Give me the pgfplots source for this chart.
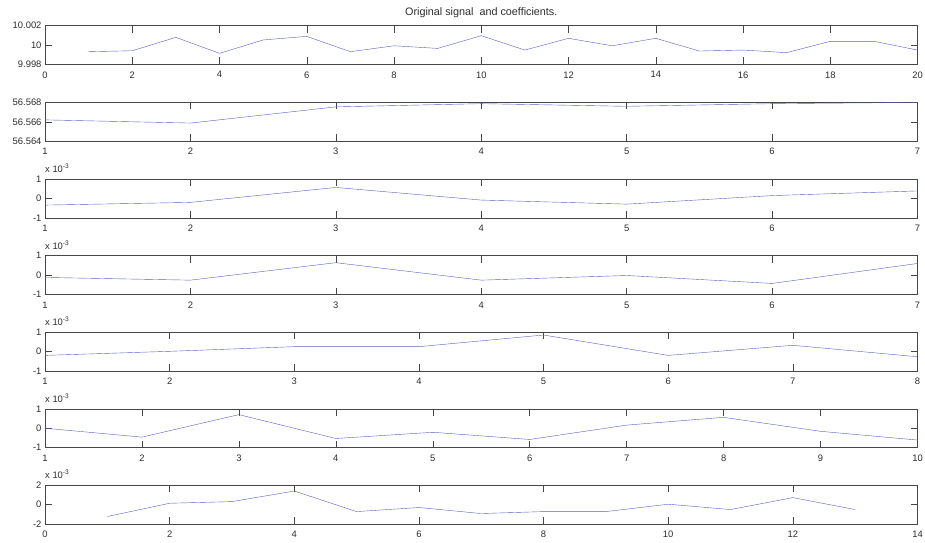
\documentclass[border=0pt]{standalone}
\usepackage{fontspec}
\setmainfont{Liberation Sans}
\usepackage{pgfplots}
\pgfplotsset{compat=1.18}
\definecolor{lineblue}{RGB}{84,96,196}
\definecolor{axisgray}{RGB}{70,70,70}
\definecolor{labelgray}{RGB}{45,45,45}
\newcommand{\tf}{\fontsize{9.4}{11}\selectfont}
\pgfplotsset{
  mstyle/.style={
    scale only axis, width=872.5pt, height=38.8pt, anchor=north west,
    axis line style={draw=axisgray, line width=0.6pt},
    tick style={draw=axisgray, line width=0.5pt},
    major tick length=7pt, tick align=inside,
    ticklabel style={font=\tf, text=labelgray},
    xticklabel style={yshift=-3.5pt},
    /pgf/number format/assume math mode=true,
    scaled y ticks=false, scaled x ticks=false,
    clip=false,
    cycle list={{lineblue, line width=0.65pt, mark=none}},
  },
  milli/.style={
    after end axis/.code={
      \node[anchor=base west, font=\tf, text=labelgray, inner sep=0pt] at (rel axis cs:0,1) [yshift=6.5pt] {x 10\textsuperscript{-3}};
    }
  }
}
\begin{document}
\begin{tikzpicture}
\useasboundingbox (0,0) rectangle (925pt,-542pt);
% 1: original signal
\begin{axis}[mstyle, at={(45pt,-25.6pt)},
  xmin=0, xmax=20, xtick={0,2,...,20},
  ymin=9.998, ymax=10.002, ytick={9.998,10,10.002}, yticklabels={9.998,10,10.002}]
\addplot coordinates {(1,9.99931) (2,9.99941) (3,10.00079) (4,9.99914) (5,10.00052) (6,10.00089) (7,9.99931) (8,9.99992) (9,9.99965) (10,10.00096) (11,9.99948) (12,10.00069) (13,9.99992) (14,10.00069) (15,9.99938) (16,9.99948) (17,9.99921) (18,10.00038) (19,10.00038) (20,9.99948)};
\node[anchor=base, font=\fontsize{10.8}{12}\selectfont, text=labelgray] at (rel axis cs:0.5,1) [yshift=10pt] {Original signal\ \ and coefficients.};
\end{axis}
% 2: approximation
\begin{axis}[mstyle, at={(45pt,-102.4pt)},
  xmin=1, xmax=7, xtick={1,...,7},
  ymin=56.564, ymax=56.568, ytick={56.564,56.566,56.568}, yticklabels={56.564,56.566,56.568}]
\addplot coordinates {(1,56.5662) (2,56.56587) (3,56.56754) (4,56.56787) (5,56.5676) (6,56.56787) (7,56.568)};
\end{axis}
% 3
\begin{axis}[mstyle, milli, at={(45pt,-179.1pt)},
  xmin=1, xmax=7, xtick={1,...,7},
  ymin=-1, ymax=1, ytick={-1,0,1}]
\addplot coordinates {(1,-0.34) (2,-0.20) (3,0.57) (4,-0.08) (5,-0.29) (6,0.15) (7,0.39)};
\end{axis}
% 4
\begin{axis}[mstyle, milli, at={(45pt,-255.7pt)},
  xmin=1, xmax=7, xtick={1,...,7},
  ymin=-1, ymax=1, ytick={-1,0,1}]
\addplot coordinates {(1,-0.12) (2,-0.26) (3,0.64) (4,-0.26) (5,-0.02) (6,-0.43) (7,0.60)};
\end{axis}
% 5
\begin{axis}[mstyle, milli, at={(45pt,-332.3pt)},
  xmin=1, xmax=8, xtick={1,...,8},
  ymin=-1, ymax=1, ytick={-1,0,1}]
\addplot coordinates {(1,-0.19) (2,0.02) (3,0.26) (4,0.26) (5,0.86) (6,-0.19) (7,0.33) (8,-0.26)};
\end{axis}
% 6
\begin{axis}[mstyle, milli, at={(45pt,-408.8pt)},
  xmin=1, xmax=10, xtick={1,...,10},
  ymin=-1, ymax=1, ytick={-1,0,1}]
\addplot coordinates {(1,0.0) (2,-0.46) (3,0.70) (4,-0.53) (5,-0.21) (6,-0.58) (7,0.16) (8,0.56) (9,-0.16) (10,-0.61)};
\end{axis}
% 7
\begin{axis}[mstyle, milli, at={(45pt,-485pt)},
  xmin=0, xmax=14, xtick={0,2,...,14},
  ymin=-2, ymax=2, ytick={-2,0,2}]
\addplot coordinates {(1,-1.25) (2,0.12) (3,0.29) (4,1.38) (5,-0.74) (6,-0.32) (7,-0.94) (8,-0.74) (9,-0.74) (10,0.02) (11,-0.53) (12,0.70) (13,-0.53)};
\end{axis}
\end{tikzpicture}
\end{document}
